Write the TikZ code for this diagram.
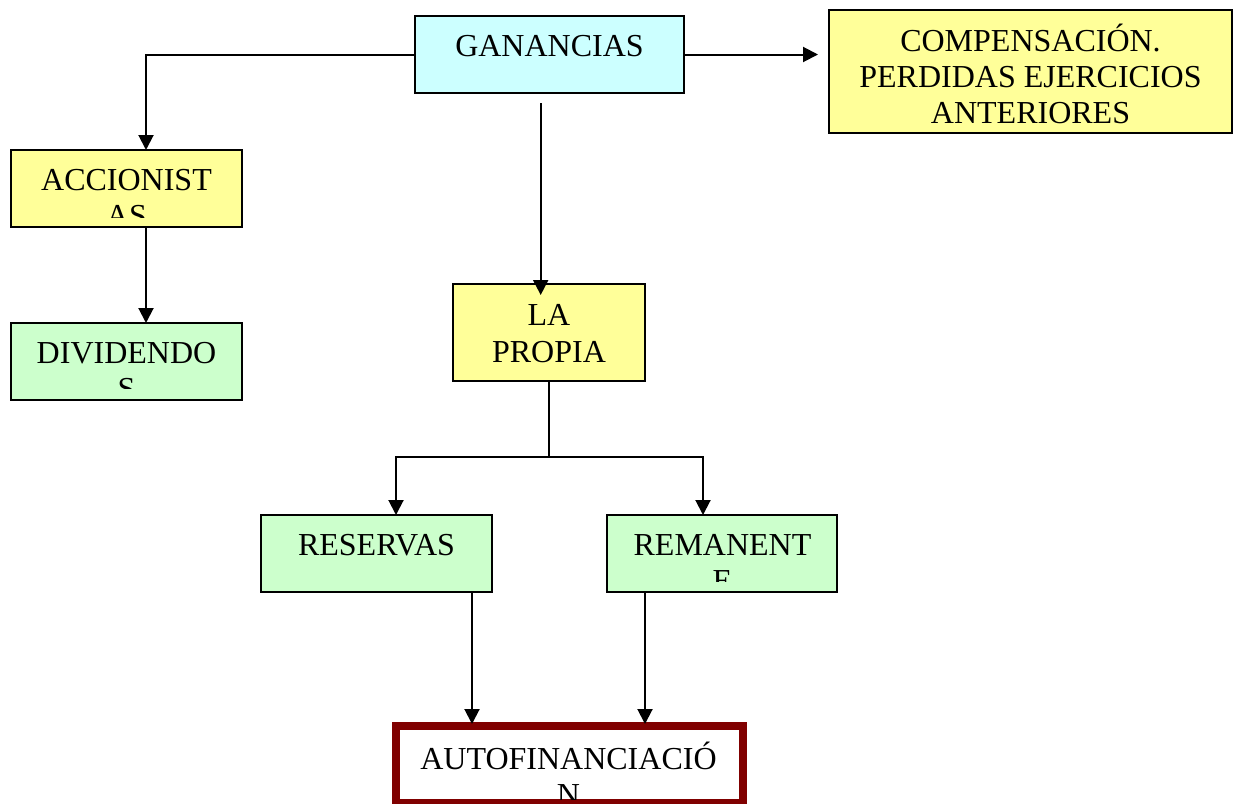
\documentclass[tikz,border=0pt]{standalone}
\usepackage{fontspec}
\setmainfont{Liberation Serif}
\usetikzlibrary{arrows.meta}
\definecolor{cyanbox}{HTML}{CCFFFF}
\definecolor{yellowbox}{HTML}{FFFF99}
\definecolor{greenbox}{HTML}{CCFFCC}
\definecolor{darkred}{HTML}{800000}
\begin{document}
\begin{tikzpicture}[x=0.5pt,y=-0.5pt,
  box/.style={draw=black,line width=1pt,inner sep=0pt,outer sep=0pt},
  txt/.style={inner sep=0pt,anchor=base,font=\fontsize{16pt}{18pt}\selectfont},
  arr/.style={draw=black,line width=1pt,-{Triangle[length=7.5pt,width=7.5pt]}},
  ln/.style={draw=black,line width=1pt}]
\useasboundingbox (0,0) rectangle (1236,803);
% boxes
\node[box,fill=cyanbox,minimum width=134.5pt,minimum height=38.5pt] (gan) at (549.5,54.5) {};
\node[box,fill=yellowbox,minimum width=201.5pt,minimum height=61.5pt] (comp) at (1030.5,71.5) {};
\node[box,fill=yellowbox,minimum width=115.5pt,minimum height=38.5pt] (acc) at (126.5,188.5) {};
\node[box,fill=greenbox,minimum width=115.5pt,minimum height=38.5pt] (div) at (126.5,361.5) {};
\node[box,fill=yellowbox,minimum width=96pt,minimum height=48.5pt] (prop) at (549,332.5) {};
\node[box,fill=greenbox,minimum width=115.5pt,minimum height=38.5pt] (res) at (376.5,553.5) {};
\node[box,fill=greenbox,minimum width=115pt,minimum height=38.5pt] (rem) at (722,553.5) {};
\node[draw=darkred,line width=4pt,fill=white,inner sep=0pt,outer sep=0pt,minimum width=173.5pt,minimum height=38.5pt] (auto) at (569.5,764.5) {};
% texts
\node[txt] (tgan) at (549.5,56) {GANANCIAS};
\node[txt] (tcomp1) at (1030.5,51) {COMPENSACIÓN.};
\node[txt] (tcomp2) at (1030.5,87) {PERDIDAS EJERCICIOS};
\node[txt] (tcomp3) at (1030.5,123) {ANTERIORES};
\begin{scope}
  \clip (12,151) rectangle (241,217);
  \node[txt] (tacc1) at (126.5,190) {ACCIONIST};
  \node[txt] (tacc2) at (126.5,226) {AS};
\end{scope}
\begin{scope}
  \clip (12,324) rectangle (241,388);
  \node[txt] (tdiv1) at (126.5,363) {DIVIDENDO};
  \node[txt] (tdiv2) at (126.5,399) {S};
\end{scope}
\node[txt] (tprop1) at (549,325) {LA};
\node[txt] (tprop2) at (549,362) {PROPIA};
\node[txt] (tres) at (376.5,555) {RESERVAS};
\begin{scope}
  \clip (608,516) rectangle (836,581);
  \node[txt] (trem1) at (722.5,555) {REMANENT};
  \node[txt] (trem2) at (722.5,591) {E};
\end{scope}
\begin{scope}
  \clip (400,730) rectangle (739,799);
  \node[txt] (tauto1) at (568.5,769) {AUTOFINANCIACIÓ};
  \node[txt] (tauto2) at (568.5,805) {N};
\end{scope}
% connectors
\draw[arr] (gan.west) -| ([xshift=9.75pt]acc.north);
\draw[arr,shorten >=5.5pt] (gan.east) -- (gan.east -| comp.west);
\draw[arr,shorten <=5pt,shorten >=-5.5pt] ([xshift=-4.4pt]gan.south) -- ([xshift=-4.15pt]prop.north);
\draw[arr] ([xshift=9.75pt]acc.south) -- ([xshift=9.75pt]div.north);
\coordinate (split) at ([yshift=-38pt]prop.south);
\draw[ln] (prop.south) -- (split);
\draw[arr] (split) -| ([xshift=9.75pt]res.north);
\draw[arr] (split) -| ([xshift=-9.5pt]rem.north);
\draw[arr,shorten >=1pt] ([xshift=47.75pt]res.south) -- ([xshift=47.75pt]res.south |- auto.north);
\draw[arr,shorten >=1pt] ([xshift=-38.5pt]rem.south) -- ([xshift=-38.5pt]rem.south |- auto.north);
\end{tikzpicture}
\end{document}
